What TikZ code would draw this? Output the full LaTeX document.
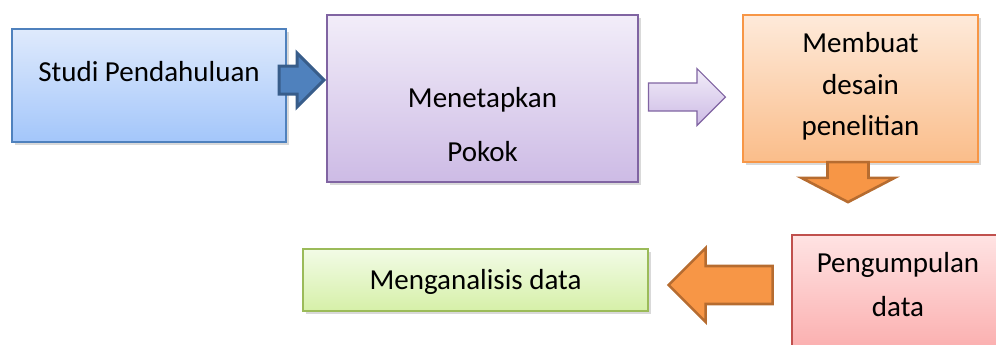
\documentclass[tikz,border=0pt]{standalone}
\usepackage{fontspec}
\setmainfont{Carlito}
\usetikzlibrary{shapes.arrows,shadows}
\definecolor{flBlue}    {RGB}{ 79,129,189}
\definecolor{flBlueT}   {RGB}{223,234,252}
\definecolor{flBlueB}   {RGB}{163,198,250}
\definecolor{flBlueD}   {RGB}{ 56, 93,138}
\definecolor{flPurple}  {RGB}{128,100,162}
\definecolor{flPurpleT} {RGB}{242,237,249}
\definecolor{flPurpleB} {RGB}{205,187,229}
\definecolor{flOrange}  {RGB}{247,150, 70}
\definecolor{flOrangeT} {RGB}{254,234,218}
\definecolor{flOrangeB} {RGB}{250,189,138}
\definecolor{flOrangeD} {RGB}{182,108, 48}
\definecolor{flRed}     {RGB}{192, 80, 77}
\definecolor{flRedT}    {RGB}{255,227,227}
\definecolor{flRedB}    {RGB}{250,168,168}
\definecolor{flGreen}   {RGB}{155,187, 89}
\definecolor{flGreenT}  {RGB}{242,251,230}
\definecolor{flGreenB}  {RGB}{214,240,168}

\begin{document}
\begin{tikzpicture}[
  x=0.5pt,y=-0.5pt,
  every node/.style={font=\fontsize{14.5pt}{18pt}\selectfont},
  stage/.style={rectangle,line width=0.8pt,inner sep=0pt,
                drop shadow={shadow xshift=1.5pt,shadow yshift=-1.5pt,opacity=0.3}},
  flow/.style={single arrow,inner xsep=0pt,line join=miter}
]
\clip (0,0) rectangle (996,344);
% the five stages
\node[stage,draw=flBlue,top color=flBlueT,bottom color=flBlueB,
      minimum width=137pt,minimum height=56.5pt,
      label={[yshift=6.75pt]center:Studi Pendahuluan}] (studi) at (149,85.5) {};
\node[stage,draw=flPurple,top color=flPurpleT,bottom color=flPurpleB,
      minimum width=155.5pt,minimum height=83.5pt,
      label={[yshift=-13.25pt,align=center,font=\fontsize{14.5pt}{27pt}\selectfont]
             center:Menetapkan\\Pokok}] (pokok) at (482.5,98.5) {};
\node[stage,draw=flOrange,top color=flOrangeT,bottom color=flOrangeB,
      minimum width=117.5pt,minimum height=73.5pt,
      label={[yshift=1pt,align=center,font=\fontsize{14.5pt}{20.75pt}\selectfont]
             center:Membuat\\desain\\penelitian}] (desain) at (860.5,88.5) {};
\node[stage,draw=flRed,top color=flRedT,bottom color=flRedB,
      minimum width=106pt,minimum height=65pt,
      label={[yshift=7.5pt,align=center,font=\fontsize{14.5pt}{22pt}\selectfont]
             center:Pengumpulan\\data}] (kumpul) at (898,300) {};
\node[stage,draw=flGreen,top color=flGreenT,bottom color=flGreenB,
      minimum width=172.5pt,minimum height=31pt,
      label={[yshift=-1pt]center:Menganalisis data}] (analisis) at (475.5,280) {};
% block arrows between the stages
\node[flow,draw=flBlueD,fill=flBlue,line width=1.5pt,
      minimum height=22.5pt,inner ysep=6.25pt,single arrow head extend=6.5pt,
      anchor=tip] (a1) at ([yshift=9.25pt]pokok.west) {};
\node[flow,draw=flPurple,top color=flPurpleT,bottom color=flPurpleB,line width=0.6pt,
      minimum height=38.5pt,inner ysep=6.7pt,single arrow head extend=7.25pt,
      anchor=tail] (a2) at ([xshift=4.5pt,yshift=0.75pt]pokok.east) {};
\node[flow,draw=flOrangeD,fill=flOrange,line width=1.3pt,shape border rotate=270,
      minimum height=20pt,inner xsep=9.6pt,inner ysep=0pt,single arrow head extend=13pt,
      single arrow tip angle=125,anchor=tail] (a3) at ([xshift=-6.25pt,yshift=1pt]desain.south) {};
\node[flow,draw=flOrangeD,fill=flOrange,line width=1.3pt,shape border rotate=180,
      minimum height=52pt,inner ysep=8.85pt,single arrow head extend=9pt,
      anchor=tip] (a4) at ([xshift=9pt,yshift=-2.5pt]analisis.east) {};
\end{tikzpicture}
\end{document}
